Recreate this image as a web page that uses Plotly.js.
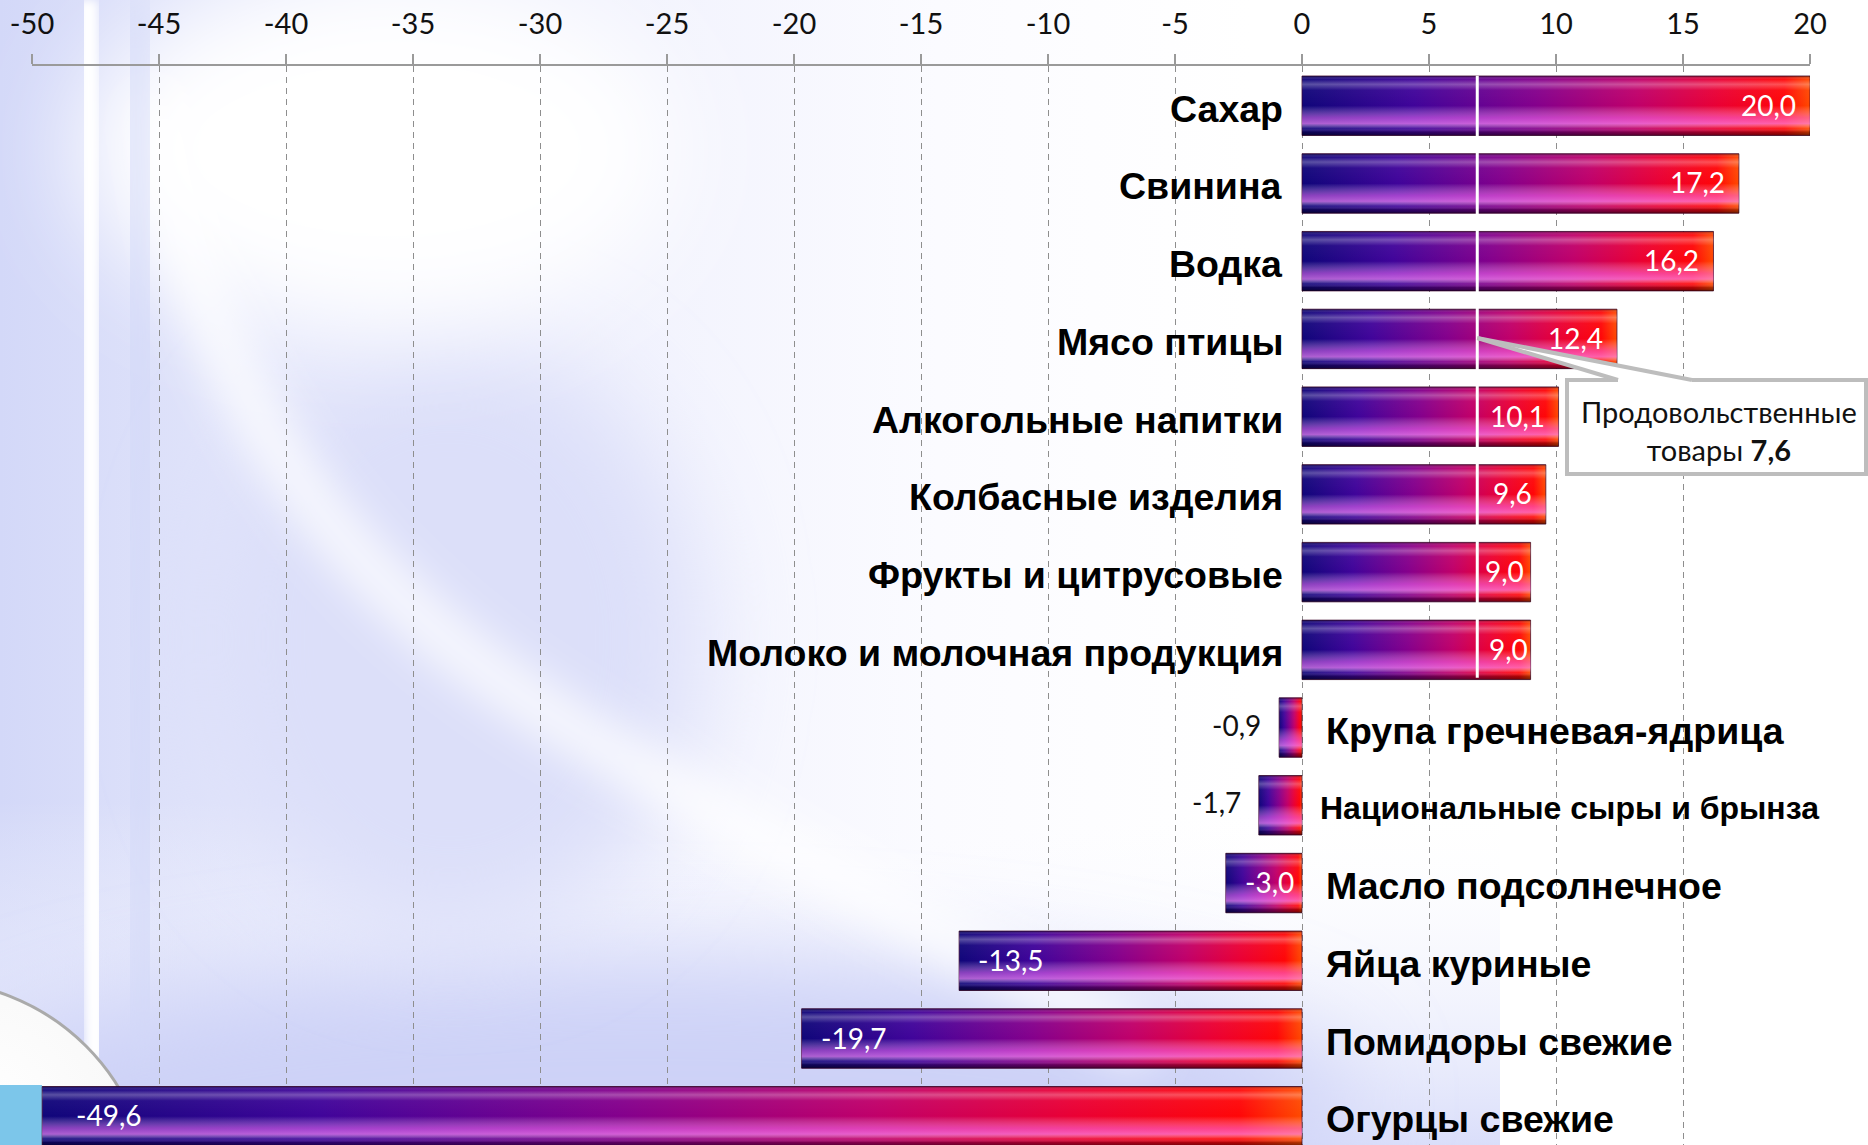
<!DOCTYPE html>
<html><head><meta charset="utf-8">
<script src="https://cdn.plot.ly/plotly-3.0.1.min.js"></script>
<style>html,body{margin:0;padding:0;background:#fff;overflow:hidden}#chart{width:1868px;height:1145px}</style>
</head><body><div id="chart"></div>
<script>
// ---------- data ----------
const categories = ['Сахар','Свинина','Водка','Мясо птицы','Алкогольные напитки','Колбасные изделия',
  'Фрукты и цитрусовые','Молоко и молочная продукция','Крупа гречневая-ядрица',
  'Национальные сыры и брынза','Масло подсолнечное','Яйца куриные','Помидоры свежие','Огурцы свежие'];
const values = [20.0, 17.2, 16.2, 12.4, 10.1, 9.6, 9.0, 9.0, -0.9, -1.7, -3.0, -13.5, -19.7, -49.6];
const tickValues = [-50,-45,-40,-35,-30,-25,-20,-15,-10,-5,0,5,10,15,20];
const tickLabels = ['-50','-45','-40','-35','-30','-25','-20','-15','-10','-5','0','5','10','15','20'];
const foodGroupName = ['Продовольственные', 'товары'];
const foodGroupValue = 7.6;
const foodMarkerX = 6.9;   // position of the white marker line as drawn in the picture

// ---------- helpers / styles ----------
const fmt = v => v.toFixed(1).replace('.', ',');
const W = 1868, H = 1145;
const M = {l: 32, r: 58, t: 66, b: 0};
const PW = W - M.l - M.r, PH = H - M.t - M.b;
const px = x => (x - M.l) / PW;          // page px -> paper x
const py = y => (H - M.b - y) / PH;      // page px -> paper y
const smallLabels = new Set(['Национальные сыры и брынза']);
const valueLabelShift = {'Фрукты и цитрусовые': -5, 'Молоко и молочная продукция': -1, 'Огурцы свежие': 32};

// ---------- background ----------
const bgSvg = `<svg xmlns="http://www.w3.org/2000/svg" width="${W}" height="${H}" viewBox="0 0 ${W} ${H}">
<defs>
<filter id="b1" x="-50%" y="-50%" width="200%" height="200%"><feGaussianBlur stdDeviation="50"/></filter>
<filter id="b2" x="-50%" y="-50%" width="200%" height="200%"><feGaussianBlur stdDeviation="22"/></filter>
<filter id="b3" x="-50%" y="-50%" width="200%" height="200%"><feGaussianBlur stdDeviation="5"/></filter>
<linearGradient id="lg" x1="0" x2="1" y1="0" y2="0">
<stop offset="0" stop-color="#d3d8f8"/><stop offset="0.3" stop-color="#eaecfc"/><stop offset="0.75" stop-color="#fbfbff"/><stop offset="1" stop-color="#ffffff"/></linearGradient>
<linearGradient id="lgb" x1="0" x2="0" y1="0" y2="1">
<stop offset="0" stop-color="#ffffff" stop-opacity="0"/><stop offset="1" stop-color="#dadefa" stop-opacity="1"/></linearGradient>
<radialGradient id="sph" cx="0.62" cy="0.3" r="0.75"><stop offset="0" stop-color="#ffffff"/><stop offset="0.75" stop-color="#f4f4f4"/><stop offset="1" stop-color="#d6d6d6"/></radialGradient>
</defs>
<rect width="${W}" height="${H}" fill="#ffffff"/>
<rect width="1250" height="${H}" fill="url(#lg)"/>
<rect x="0" y="800" width="1500" height="345" fill="url(#lgb)"/>
<ellipse cx="650" cy="1100" rx="700" ry="140" fill="#cdd2f7" filter="url(#b1)"/>
<ellipse cx="450" cy="640" rx="250" ry="300" fill="#dcdff9" filter="url(#b1)"/>
<ellipse cx="380" cy="150" rx="300" ry="180" fill="#ffffff" filter="url(#b1)"/>
<path d="M160 100 C 190 350, 300 560, 560 720 S 900 900, 1150 1050" stroke="#ffffff" stroke-width="50" fill="none" stroke-opacity="0.8" filter="url(#b2)"/>
<path d="M40 0 L40 1100" stroke="#bcc3f4" stroke-width="30" fill="none" filter="url(#b2)"/>
<path d="M88 0 L95 1060" stroke="#ffffff" stroke-width="20" fill="none" filter="url(#b3)"/>
<path d="M135 0 L145 1060" stroke="#d2d8f8" stroke-width="30" fill="none" filter="url(#b2)"/>
<circle cx="-71" cy="1203" r="222" fill="url(#sph)" stroke="#aaaaaa" stroke-width="3"/>
<rect x="0" y="1085" width="42" height="60" fill="#7cc6ea"/>
</svg>`;
const bgURI = 'data:image/svg+xml;charset=utf-8,' + encodeURIComponent(bgSvg);

// ---------- traces ----------
const barTrace = {
  type: 'bar', orientation: 'h',
  y: categories, x: values,
  width: 0.765,
  marker: {color: '#8a0088', line: {color: 'rgba(60,0,40,0.75)', width: 1}},
  hoverinfo: 'skip'
};

// ---------- annotations ----------
const annotations = [];
categories.forEach((c, i) => {
  const v = values[i];
  const pos = v >= 0;
  const small = smallLabels.has(c);
  annotations.push({
    x: 0, y: c, xref: 'x', yref: 'y', showarrow: false,
    text: '<b>' + c + '</b>',
    xanchor: pos ? 'right' : 'left', xshift: pos ? -17 : (small ? 16 : 22), yshift: -3,
    font: {family: 'Liberation Sans, Arial, sans-serif', size: small ? 32 : 37.5, color: '#000'}
  });
  const outside = Math.abs(v) < 2.5;
  const base = pos ? -12 : (outside ? -16 : 17);
  annotations.push({
    x: v, y: c, xref: 'x', yref: 'y', showarrow: false,
    text: fmt(v),
    xanchor: (pos || outside) ? 'right' : 'left',
    xshift: (c in valueLabelShift) ? valueLabelShift[c] : base, yshift: outside ? 3 : 1,
    font: {family: 'Lato, sans-serif', size: 28, color: outside ? '#111' : '#ffffff'}
  });
});
annotations.push({
  x: px(1719), y: py(430), xref: 'paper', yref: 'paper', showarrow: false,
  xanchor: 'center', yanchor: 'middle',
  text: foodGroupName[0] + '<br>' + foodGroupName[1] + ' <b>' + fmt(foodGroupValue) + '</b>',
  font: {family: 'Lato, sans-serif', size: 29, color: '#111'}
});

// ---------- shapes ----------
const boxL = px(1567), boxR = px(1866), boxT = py(380), boxB = py(474);
const baseA = px(1618), baseB = px(1692);
const apexX = px(M.l + (foodMarkerX + 50) / 70 * PW);
const apexY = py(338);
const dT = 4 / PH;
const shapes = [
  {type: 'line', xref: 'x', yref: 'y', x0: foodMarkerX, x1: foodMarkerX, y0: -0.385, y1: 7.36,
   line: {color: '#ffffff', width: 3}, layer: 'above'},
  {type: 'rect', xref: 'paper', yref: 'paper', x0: boxL, x1: boxR, y0: boxB, y1: boxT,
   fillcolor: '#ffffff', line: {color: '#bdbdbd', width: 4}, layer: 'above'},
  {type: 'path', xref: 'paper', yref: 'paper', layer: 'above', fillcolor: '#ffffff', line: {width: 0},
   path: `M ${apexX} ${apexY} L ${baseA} ${boxT} L ${baseA} ${boxT - dT} L ${baseB} ${boxT - dT} L ${baseB} ${boxT} Z`},
  {type: 'line', xref: 'paper', yref: 'paper', layer: 'above', x0: baseA, y0: boxT, x1: apexX, y1: apexY,
   line: {color: '#bdbdbd', width: 4}},
  {type: 'line', xref: 'paper', yref: 'paper', layer: 'above', x0: baseB, y0: boxT, x1: apexX, y1: apexY,
   line: {color: '#bdbdbd', width: 4}}
];

const layout = {
  width: W, height: H,
  margin: {l: M.l, r: M.r, t: M.t, b: M.b, pad: 0},
  paper_bgcolor: '#ffffff', plot_bgcolor: 'rgba(0,0,0,0)',
  showlegend: false,
  xaxis: {
    range: [-50, 20], side: 'top', tickmode: 'array', tickvals: tickValues, ticktext: tickLabels,
    showgrid: true, gridcolor: '#8e8e8e', gridwidth: 1, griddash: '6px,5px',
    showline: true, linecolor: '#9a9a9a', linewidth: 2,
    ticks: 'outside', ticklen: 10, tickwidth: 2, tickcolor: '#9a9a9a',
    tickfont: {family: 'Lato, sans-serif', size: 29, color: '#111'},
    ticklabelstandoff: 8, zeroline: false, fixedrange: true
  },
  yaxis: {
    type: 'category', range: [13.37, -0.511], autorange: false,
    showgrid: false, showticklabels: false, zeroline: false, showline: false, ticks: '', fixedrange: true
  },
  annotations: annotations,
  shapes: shapes,
  images: [{source: bgURI, xref: 'paper', yref: 'paper', x: -M.l / PW, y: 1 + M.t / PH,
    sizex: W / PW, sizey: H / PH, xanchor: 'left', yanchor: 'top', sizing: 'stretch', layer: 'below'}]
};

Plotly.newPlot('chart', [barTrace], layout, {staticPlot: true, displayModeBar: false}).then(gd => {
  const NS = 'http://www.w3.org/2000/svg';
  const svg = gd.querySelector('svg.main-svg');
  const defsSrc = `<svg xmlns="${NS}"><defs>
<linearGradient id="barBase" x1="0" y1="0" x2="1" y2="0">
<stop offset="0" stop-color="#10067a"/><stop offset="0.22" stop-color="#40049a"/>
<stop offset="0.46" stop-color="#84008c"/><stop offset="0.66" stop-color="#c0006a"/>
<stop offset="0.82" stop-color="#ea0034"/><stop offset="0.95" stop-color="#ff0608"/>
<stop offset="1" stop-color="#ff4a00"/></linearGradient>
<linearGradient id="barShade" x1="0" y1="0" x2="0" y2="1">
<stop offset="0" stop-color="#000000" stop-opacity="0.4"/>
<stop offset="0.06" stop-color="#ffffff" stop-opacity="0.04"/>
<stop offset="0.14" stop-color="#ffffff" stop-opacity="0.3"/>
<stop offset="0.24" stop-color="#ffffff" stop-opacity="0.04"/>
<stop offset="0.5" stop-color="#ffffff" stop-opacity="0"/>
<stop offset="0.7" stop-color="#ff7cff" stop-opacity="0.5"/>
<stop offset="0.8" stop-color="#ff90ff" stop-opacity="0.65"/>
<stop offset="0.88" stop-color="#ffffff" stop-opacity="0.08"/>
<stop offset="0.94" stop-color="#000000" stop-opacity="0.3"/>
<stop offset="1" stop-color="#000000" stop-opacity="0.55"/></linearGradient>
</defs></svg>`;
  const parsed = new DOMParser().parseFromString(defsSrc, 'image/svg+xml');
  const newDefs = document.importNode(parsed.documentElement.firstElementChild, true);
  svg.insertBefore(newDefs, svg.firstChild);
  gd.querySelectorAll('.barlayer .point path').forEach(p => {
    p.style.fill = 'url(#barBase)';
    p.style.fillOpacity = 1;
    const s = p.cloneNode(false);
    s.style.fill = 'url(#barShade)';
    s.style.stroke = 'none';
    p.parentNode.appendChild(s);
  });
});
</script>
</body></html>
